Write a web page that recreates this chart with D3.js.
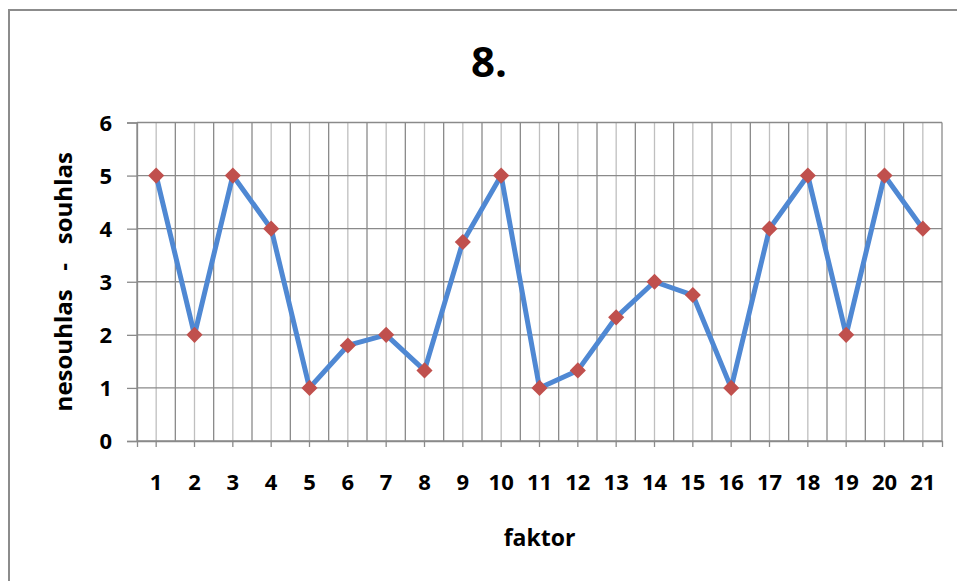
<!DOCTYPE html>
<html>
<head>
<meta charset="utf-8">
<script src="https://cdn.jsdelivr.net/npm/d3@7"></script>
<style>
  html, body { margin: 0; padding: 0; background: #fff; }
  svg { display: block; }
  text { font-family: "Open Sans", "DejaVu Sans", sans-serif; font-weight: bold; fill: #000; }
</style>
</head>
<body>
<svg id="chart" width="957" height="581"></svg>
<script>
// Factor numbers along the horizontal axis
const categories = ["1","2","3","4","5","6","7","8","9","10","11","12","13","14","15","16","17","18","19","20","21"];
// Agreement score per factor (1 = nesouhlas, 5 = souhlas)
const values = [5, 2, 5, 4, 1, 1.8, 2, 1.33, 3.75, 5, 1, 1.33, 2.33, 3, 2.75, 1, 4, 5, 2, 5, 4];
// Vertical axis ticks
const yTicks = [0, 1, 2, 3, 4, 5, 6];

const title = "8.";
const xTitle = "faktor";
const yTitle = "nesouhlas   -   souhlas";

const svg = d3.select("#chart");

// chart frame
svg.append("rect")
  .attr("x", 9).attr("y", 10)
  .attr("width", 970).attr("height", 600)
  .attr("fill", "#fff")
  .attr("stroke", "#8c8c8c")
  .attr("stroke-width", 2);

const plot = { left: 137, right: 942, top: 122.5, bottom: 441 };

const x = d3.scaleBand()
  .domain(categories)
  .range([plot.left, plot.right])
  .padding(0);

const y = d3.scaleLinear()
  .domain([0, 6])
  .range([plot.bottom, plot.top]);

const g = svg.append("g");

// minor vertical gridlines at category centres
g.selectAll(".minor")
  .data(categories)
  .enter().append("line")
  .attr("x1", d => x(d) + x.bandwidth() / 2)
  .attr("x2", d => x(d) + x.bandwidth() / 2)
  .attr("y1", plot.top).attr("y2", plot.bottom)
  .attr("stroke", "#bfbfbf")
  .attr("stroke-width", 1.3);

// major vertical gridlines at category boundaries
const bounds = categories.map(d => x(d)).concat([plot.right]);
g.selectAll(".major")
  .data(bounds)
  .enter().append("line")
  .attr("x1", d => d).attr("x2", d => d)
  .attr("y1", plot.top).attr("y2", plot.bottom)
  .attr("stroke", "#8a8a8a")
  .attr("stroke-width", 1.3);

// horizontal gridlines
g.selectAll(".hgrid")
  .data(yTicks)
  .enter().append("line")
  .attr("x1", plot.left).attr("x2", plot.right)
  .attr("y1", d => y(d)).attr("y2", d => y(d))
  .attr("stroke", "#8a8a8a")
  .attr("stroke-width", 1.3);

// y axis
const yAxis = d3.axisLeft(y)
  .tickValues(yTicks)
  .tickSize(10)
  .tickPadding(15)
  .tickFormat(d3.format("d"));
const ya = svg.append("g")
  .attr("transform", `translate(${plot.left},0)`)
  .call(yAxis);
ya.select(".domain").attr("stroke", "#8a8a8a").attr("stroke-width", 1.3);
ya.selectAll(".tick line").attr("stroke", "#8a8a8a").attr("stroke-width", 1.3);
ya.selectAll(".tick text")
  .style("font-size", "22px")
  .attr("dy", "0.36em");

// x axis
const xAxis = d3.axisBottom(x)
  .tickSize(6)
  .tickPadding(28)
  .tickSizeOuter(6);
const xa = svg.append("g")
  .attr("transform", `translate(0,${plot.bottom})`)
  .call(xAxis);
xa.select(".domain").attr("stroke", "#8a8a8a").attr("stroke-width", 1.3);
xa.selectAll(".tick line").attr("stroke", "#8a8a8a").attr("stroke-width", 1.3);
xa.selectAll(".tick text")
  .style("font-size", "22px")
  .attr("dy", "0.68em");

// data line
const line = d3.line()
  .x((d, i) => x(categories[i]) + x.bandwidth() / 2)
  .y(d => y(d));

svg.append("path")
  .datum(values)
  .attr("d", line)
  .attr("fill", "none")
  .attr("stroke", "#4f88d3")
  .attr("stroke-width", 5)
  .attr("stroke-linejoin", "round");

// diamond markers
const diamond = d3.symbol().type(d3.symbolSquare).size(130);
svg.selectAll(".marker")
  .data(values)
  .enter().append("path")
  .attr("d", diamond)
  .attr("transform", (d, i) =>
    `translate(${x(categories[i]) + x.bandwidth() / 2},${y(d)}) rotate(45)`)
  .attr("fill", "#c0504d");

// titles
svg.append("text")
  .attr("x", 489).attr("y", 77)
  .attr("text-anchor", "middle")
  .style("font-size", "42px")
  .text(title);

svg.append("text")
  .attr("x", 539.5).attr("y", 546)
  .attr("text-anchor", "middle")
  .style("font-size", "23px")
  .text(xTitle);

svg.append("text")
  .attr("transform", `translate(72,${(plot.top + plot.bottom) / 2}) rotate(-90)`)
  .attr("text-anchor", "middle")
  .style("font-size", "24px")
  .style("white-space", "pre")
  .attr("xml:space", "preserve")
  .text(yTitle);
</script>
</body>
</html>
